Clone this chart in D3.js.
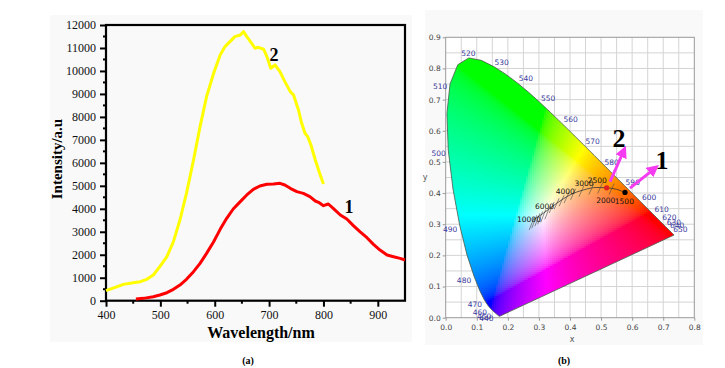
<!DOCTYPE html>
<html>
<head>
<meta charset="utf-8">
<script src="https://cdn.jsdelivr.net/npm/d3@7"></script>
<style>
body { margin: 0; background: #fff; }
</style>
</head>
<body>
<svg></svg>
<script>
// ---- panel (a) data: emission spectra ----
var wave2 = [400, 417, 432, 450, 463, 475, 487, 499, 512, 524, 536, 548, 561, 573, 585, 598, 610, 619, 628, 637, 647, 653,
    659, 668, 674, 680, 690, 696, 703, 711, 720, 729, 739, 745, 754, 760, 766, 771, 777, 785, 793, 800];
var int2 = [435, 580, 711, 784, 827, 929, 1117, 1480, 1916, 2569, 3512, 4673, 6124, 7576, 8882, 9898, 10697, 11060, 11277, 11495, 11567, 11712,
    11495, 11205, 10987, 11030, 10944, 10624, 10116, 10261, 9971, 9536, 9100, 8955, 8302, 7721, 7286, 7141, 6778, 6125, 5544, 5080];
var wave1 = [455, 469, 487, 499, 512, 524, 536, 548, 561, 573, 585, 598, 610, 622, 634, 647, 659, 671, 683, 696, 708, 720,
    729, 739, 751, 763, 775, 785, 791, 800, 809, 818, 831, 843, 855, 867, 880, 892, 904, 917, 929, 941, 950];
var int1 = [73, 102, 174, 247, 348, 493, 682, 929, 1263, 1626, 2061, 2569, 3106, 3585, 3991, 4311, 4601, 4848, 4993, 5065, 5080, 5109,
    5036, 4891, 4746, 4673, 4528, 4340, 4282, 4136, 4209, 4020, 3730, 3556, 3266, 3004, 2743, 2453, 2206, 1988, 1916, 1843, 1771];
var xTicksA = [400, 500, 600, 700, 800, 900];
var yTicksA = d3.range(0, 12001, 1000);

// ---- panel (b) data: CIE 1931 chromaticity ----
var locusWl = [380, 400, 420, 440, 450, 460, 465, 470, 475, 480, 485, 490, 495, 500, 505, 510, 515, 520, 525, 530, 535, 540,
    545, 550, 555, 560, 565, 570, 575, 580, 585, 590, 595, 600, 605, 610, 620, 630, 640, 650, 660, 700];
var locusX = [0.1741, 0.1733, 0.1714, 0.1644, 0.1566, 0.1440, 0.1355, 0.1241, 0.1096, 0.0913, 0.0687, 0.0454, 0.0235, 0.0082, 0.0039, 0.0139, 0.0389, 0.0743, 0.1142, 0.1547, 0.1929, 0.2296,
    0.2658, 0.3016, 0.3373, 0.3731, 0.4087, 0.4441, 0.4788, 0.5125, 0.5448, 0.5752, 0.6029, 0.6270, 0.6482, 0.6658, 0.6915, 0.7079, 0.7190, 0.7260, 0.7300, 0.7347];
var locusY = [0.0050, 0.0048, 0.0051, 0.0109, 0.0177, 0.0297, 0.0399, 0.0578, 0.0868, 0.1327, 0.2007, 0.2950, 0.4127, 0.5384, 0.6548, 0.7502, 0.8120, 0.8338, 0.8262, 0.8059, 0.7816, 0.7543,
    0.7243, 0.6923, 0.6589, 0.6245, 0.5896, 0.5547, 0.5202, 0.4866, 0.4544, 0.4242, 0.3965, 0.3725, 0.3514, 0.3340, 0.3083, 0.2920, 0.2809, 0.2740, 0.2700, 0.2653];
var wlLabel = ["520", "530", "540", "550", "560", "570", "580", "590", "600", "610", "620", "630", "640", "650", "510", "500", "490", "480", "470", "460", "450", "440"];
var wlLabelX = [0.073, 0.180, 0.258, 0.330, 0.402, 0.473, 0.534, 0.602, 0.655, 0.695, 0.720, 0.734, 0.745, 0.755, -0.018, -0.023, 0.014, 0.059, 0.094, 0.110, 0.124, 0.131];
var wlLabelY = [0.851, 0.820, 0.769, 0.706, 0.638, 0.568, 0.499, 0.437, 0.386, 0.348, 0.322, 0.307, 0.296, 0.286, 0.744, 0.530, 0.284, 0.121, 0.044, 0.018, 0.005, -0.001];
var planckX = [0.282, 0.314, 0.357, 0.400, 0.443, 0.486, 0.518, 0.550, 0.577];
var planckY = [0.314, 0.335, 0.367, 0.394, 0.410, 0.418, 0.417, 0.412, 0.402];
var isoX = [0.277, 0.285, 0.295, 0.304, 0.314, 0.327, 0.341, 0.357, 0.373, 0.389, 0.410, 0.437, 0.469, 0.497, 0.534];
var cctLabel = ["10000", "6000", "4000", "3000", "2500", "2000", "1500"];
var cctX = [0.268, 0.318, 0.385, 0.445, 0.488, 0.515, 0.575];
var cctY = [0.316, 0.360, 0.408, 0.432, 0.441, 0.377, 0.373];
var sampleX = [0.577, 0.518];
var sampleY = [0.402, 0.417];
var sampleColor = ["#000000", "#e02020"];
var arrowFrom = [[0.593, 0.416], [0.529, 0.437]];
var arrowTo = [[0.665, 0.473], [0.569, 0.527]];
var xTicksB = d3.range(0, 0.81, 0.1);
var yTicksB = d3.range(0, 0.91, 0.1);

var svg = d3.select("svg").attr("width", 725).attr("height", 368);

// ================= panel (a) =================
svg.append("rect").attr("x", 50).attr("y", 15).attr("width", 362).attr("height", 327).attr("fill", "#f9f9f9");

var xA = d3.scaleLinear().domain([400, 950]).range([106, 405]);
var yA = d3.scaleLinear().domain([0, 12000]).range([300.7, 25]);
var serif = "Liberation Serif, Times New Roman, serif";

var gA = svg.append("g");

// minor ticks
gA.selectAll(".minx").data(d3.range(450, 950, 100)).enter().append("line")
    .attr("x1", d => xA(d)).attr("x2", d => xA(d))
    .attr("y1", yA(0)).attr("y2", yA(0) + 3)
    .attr("stroke", "#000").attr("stroke-width", 2);
gA.selectAll(".miny").data(d3.range(500, 12000, 1000)).enter().append("line")
    .attr("x1", xA(400) - 3).attr("x2", xA(400))
    .attr("y1", d => yA(d)).attr("y2", d => yA(d))
    .attr("stroke", "#000").attr("stroke-width", 2);

var axB = gA.append("g").attr("transform", "translate(0," + yA(0) + ")")
    .call(d3.axisBottom(xA).tickValues(xTicksA).tickSize(6).tickPadding(4));
var axL = gA.append("g").attr("transform", "translate(" + xA(400) + ",0)")
    .call(d3.axisLeft(yA).tickValues(yTicksA).tickSize(6).tickPadding(4).tickFormat(d3.format("d")));
[axB, axL].forEach(function (a) {
    a.select(".domain").remove();
    a.selectAll("line").attr("stroke", "#000").attr("stroke-width", 2);
    a.selectAll("text").attr("fill", "#111").style("font-family", serif).style("font-size", "12px");
});

// frame
gA.append("rect").attr("x", xA(400)).attr("y", yA(12000))
    .attr("width", xA(950) - xA(400)).attr("height", yA(0) - yA(12000))
    .attr("fill", "none").attr("stroke", "#000").attr("stroke-width", 2.2);

var lineA = d3.line().x(d => xA(d[0])).y(d => yA(d[1]));
gA.append("path").datum(d3.zip(wave2, int2)).attr("d", lineA)
    .attr("fill", "none").attr("stroke", "#ffff00").attr("stroke-width", 3).attr("stroke-linejoin", "round");
gA.append("path").datum(d3.zip(wave1, int1)).attr("d", lineA)
    .attr("fill", "none").attr("stroke", "#ff0000").attr("stroke-width", 3).attr("stroke-linejoin", "round");

gA.append("text").attr("x", 274).attr("y", 61).attr("text-anchor", "middle")
    .style("font-family", serif).style("font-weight", "bold").style("font-size", "18px").text("2");
gA.append("text").attr("x", 349).attr("y", 213).attr("text-anchor", "middle")
    .style("font-family", serif).style("font-weight", "bold").style("font-size", "18px").text("1");

gA.append("text").attr("x", 261).attr("y", 338).attr("text-anchor", "middle")
    .style("font-family", serif).style("font-weight", "bold").style("font-size", "16px").text("Wavelength/nm");
gA.append("text").attr("transform", "translate(62,159)rotate(-90)").attr("text-anchor", "middle")
    .style("font-family", serif).style("font-weight", "bold").style("font-size", "15px").text("Intensity/a.u");
svg.append("text").attr("x", 248).attr("y", 364).attr("text-anchor", "middle")
    .style("font-family", serif).style("font-weight", "bold").style("font-size", "10px").text("(a)");

// ================= panel (b) =================
svg.append("rect").attr("x", 425).attr("y", 10).attr("width", 278).attr("height", 335).attr("fill", "#f9f9f9");

var xB = d3.scaleLinear().domain([0, 0.8]).range([445.7, 694.3]);
var yB = d3.scaleLinear().domain([0, 0.9]).range([317.7, 37.3]);
var sans = "DejaVu Sans, sans-serif";
var gB = svg.append("g");

gB.append("rect").attr("x", xB(0)).attr("y", yB(0.9)).attr("width", xB(0.8) - xB(0)).attr("height", yB(0) - yB(0.9)).attr("fill", "#fff");

// grid every 0.05
gB.selectAll(".gx").data(d3.range(0.05, 0.8, 0.05)).enter().append("line")
    .attr("x1", d => xB(d)).attr("x2", d => xB(d)).attr("y1", yB(0)).attr("y2", yB(0.9))
    .attr("stroke", "#d4d4d4").attr("stroke-width", 1);
gB.selectAll(".gy").data(d3.range(0.05, 0.9, 0.05)).enter().append("line")
    .attr("y1", d => yB(d)).attr("y2", d => yB(d)).attr("x1", xB(0)).attr("x2", xB(0.8))
    .attr("stroke", "#d4d4d4").attr("stroke-width", 1);

// colour fill of the gamut, clipped to the spectral locus
var locusPts = d3.zip(locusX, locusY);
var locusLine = d3.line().x(d => xB(d[0])).y(d => yB(d[1]));
svg.append("defs").append("clipPath").attr("id", "locus")
    .append("path").attr("d", locusLine(locusPts) + "Z");

function xyToRgb(x, y) {
    y = Math.max(y, 0.002);
    var X = x / y, Y = 1, Z = (1 - x - y) / y;
    var r = 3.2406 * X - 1.5372 * Y - 0.4986 * Z;
    var g = -0.9689 * X + 1.8758 * Y + 0.0415 * Z;
    var b = 0.0557 * X - 0.2040 * Y + 1.0570 * Z;
    var c = [r, g, b].map(v => Math.max(v, 0));
    var m = d3.max(c);
    return d3.rgb.apply(null, c.map(function (v) {
        v = v / m;
        v = v <= 0.0031308 ? 12.92 * v : 1.055 * Math.pow(v, 1 / 2.4) - 0.055;
        return Math.round(v * 255);
    }));
}

var step = 2, cells = [];
d3.range(xB(0), xB(0.74), step).forEach(function (px) {
    d3.range(yB(0.84), yB(0) + 1, step).forEach(function (py) {
        cells.push([px, py]);
    });
});
gB.append("g").attr("clip-path", "url(#locus)")
    .selectAll("rect").data(cells).enter().append("rect")
    .attr("x", d => d[0]).attr("y", d => d[1]).attr("width", step + 0.5).attr("height", step + 0.5)
    .attr("shape-rendering", "crispEdges")
    .attr("fill", d => xyToRgb(xB.invert(d[0] + step / 2), yB.invert(d[1] + step / 2)));

gB.append("path").attr("d", locusLine(locusPts) + "Z")
    .attr("fill", "none").attr("stroke", "#4a5a4a").attr("stroke-width", 0.8);

// plot border and axes
gB.append("rect").attr("x", xB(0)).attr("y", yB(0.9)).attr("width", xB(0.8) - xB(0)).attr("height", yB(0) - yB(0.9))
    .attr("fill", "none").attr("stroke", "#999").attr("stroke-width", 1);
var bx = gB.append("g").attr("transform", "translate(0," + yB(0) + ")")
    .call(d3.axisBottom(xB).tickValues(xTicksB).tickSize(3).tickPadding(4).tickFormat(d3.format(".1f")));
var by = gB.append("g").attr("transform", "translate(" + xB(0) + ",0)")
    .call(d3.axisLeft(yB).tickValues(yTicksB).tickSize(3).tickPadding(2).tickFormat(d3.format(".1f")));
[bx, by].forEach(function (a) {
    a.select(".domain").remove();
    a.selectAll("line").attr("stroke", "#999");
    a.selectAll("text").attr("fill", "#444").style("font-family", sans).style("font-size", "7.5px");
});
gB.append("text").attr("x", 572).attr("y", 342).attr("text-anchor", "middle")
    .attr("fill", "#555").style("font-family", sans).style("font-size", "8px").text("x");
gB.append("text").attr("x", 425).attr("y", 180).attr("text-anchor", "middle")
    .attr("fill", "#555").style("font-family", sans).style("font-size", "8px").text("y");

// wavelength labels
gB.selectAll(".wl").data(wlLabel).enter().append("text")
    .attr("x", (d, i) => xB(wlLabelX[i])).attr("y", (d, i) => yB(wlLabelY[i]) + 3)
    .attr("text-anchor", "middle").attr("fill", "#3a3aa0")
    .style("font-family", sans).style("font-size", "7.5px").text(d => d);

// Planckian locus with isotherms
var planckAt = d3.scaleLinear().domain(planckX).range(planckY);
gB.append("path").datum(d3.zip(planckX, planckY))
    .attr("d", d3.line().x(d => xB(d[0])).y(d => yB(d[1])).curve(d3.curveMonotoneX))
    .attr("fill", "none").attr("stroke", "#333").attr("stroke-width", 0.8);
gB.selectAll(".iso").data(isoX).enter().append("line")
    .attr("x1", d => xB(d) - 2.5).attr("y1", d => yB(planckAt(d)) + (d < 0.33 ? 9 : 6))
    .attr("x2", d => xB(d) + 2.5).attr("y2", d => yB(planckAt(d)) - (d < 0.33 ? 4 : 5))
    .attr("stroke", "#444").attr("stroke-width", 0.6);
gB.selectAll(".cct").data(cctLabel).enter().append("text")
    .attr("x", (d, i) => xB(cctX[i])).attr("y", (d, i) => yB(cctY[i]) + 3)
    .attr("text-anchor", "middle").attr("fill", "#111")
    .style("font-family", sans).style("font-size", "7.5px").text(d => d);

// arrows
svg.select("defs").append("marker").attr("id", "head")
    .attr("viewBox", "0 0 10 10").attr("refX", 3).attr("refY", 5)
    .attr("markerWidth", 4).attr("markerHeight", 4).attr("orient", "auto")
    .append("path").attr("d", "M0,0L10,5L0,10Z").attr("fill", "#f53cf0");
gB.selectAll(".arrow").data(arrowFrom).enter().append("line")
    .attr("x1", d => xB(d[0])).attr("y1", d => yB(d[1]))
    .attr("x2", (d, i) => xB(arrowTo[i][0])).attr("y2", (d, i) => yB(arrowTo[i][1]))
    .attr("stroke", "#f53cf0").attr("stroke-width", 3).attr("marker-end", "url(#head)");

// sample points
gB.selectAll(".pt").data(sampleX).enter().append("circle")
    .attr("cx", d => xB(d)).attr("cy", (d, i) => yB(sampleY[i])).attr("r", 2.6)
    .attr("fill", (d, i) => sampleColor[i]);

gB.append("text").attr("x", 619).attr("y", 147).attr("text-anchor", "middle")
    .style("font-family", serif).style("font-weight", "bold").style("font-size", "26px").text("2");
gB.append("text").attr("x", 662).attr("y", 169).attr("text-anchor", "middle")
    .style("font-family", serif).style("font-weight", "bold").style("font-size", "26px").text("1");
svg.append("text").attr("x", 564).attr("y", 364).attr("text-anchor", "middle")
    .style("font-family", serif).style("font-weight", "bold").style("font-size", "10px").text("(b)");
</script>
</body>
</html>
